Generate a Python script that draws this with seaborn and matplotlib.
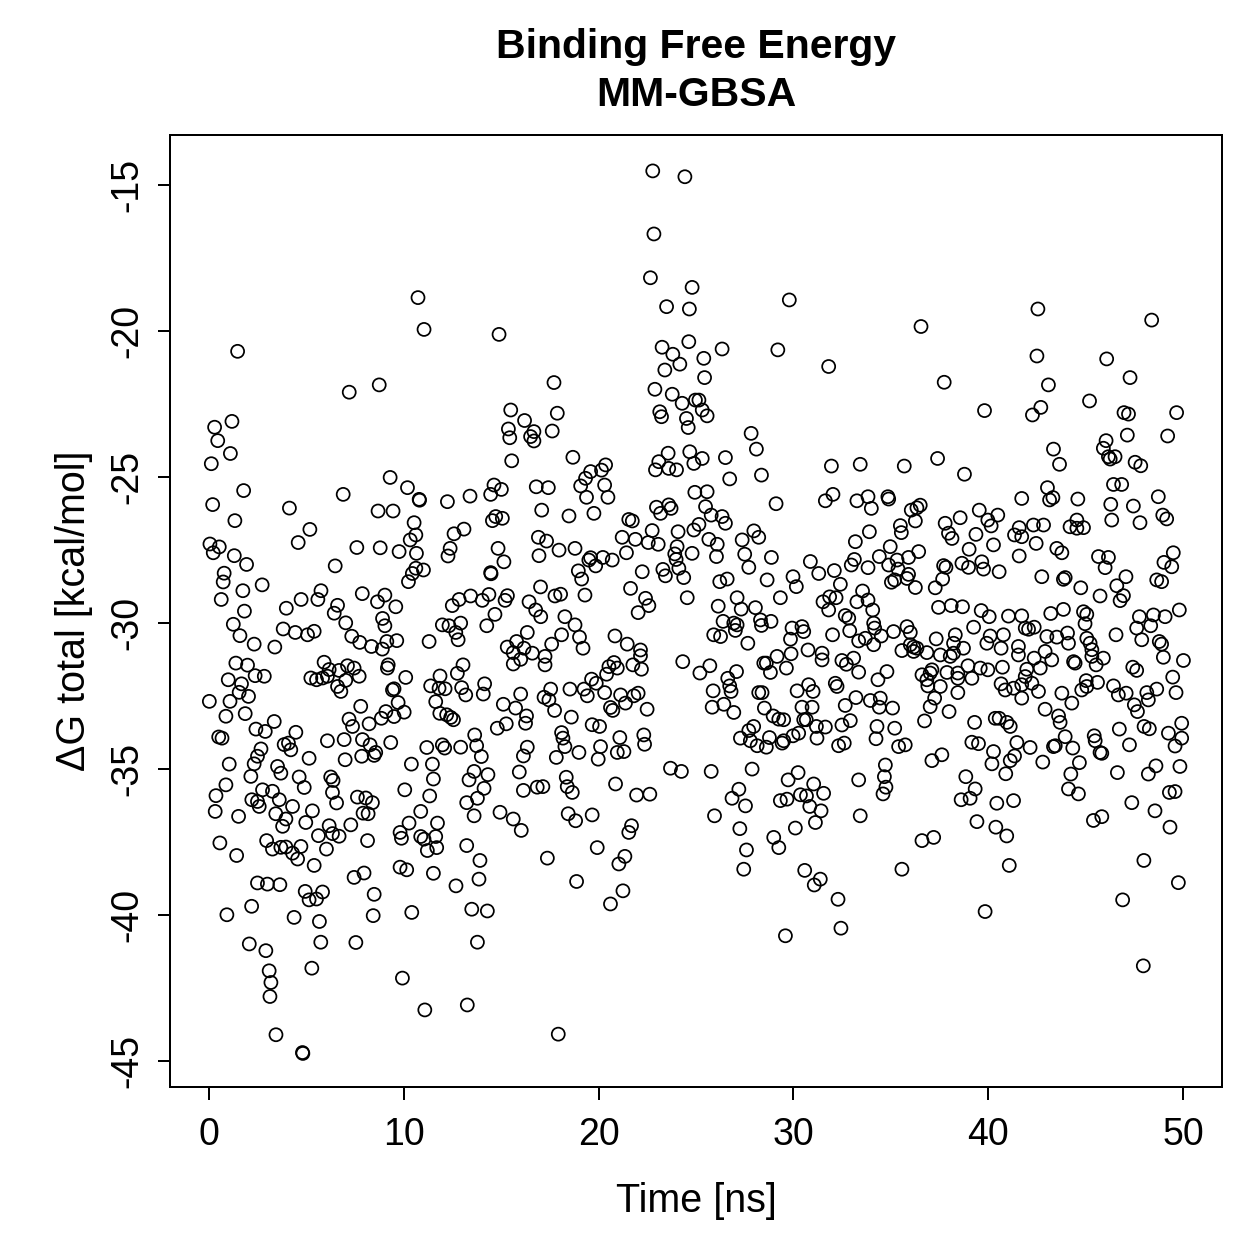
import matplotlib
matplotlib.use("Agg")
import matplotlib.pyplot as plt
import seaborn as sns
import pandas as pd

# (time [ns], dG total [kcal/mol]), grouped by time window
pts_0_8 = [
    (1.47,-20.7),(1.18,-23.1),(0.29,-23.3),(0.45,-23.76),(1.1,-24.2),(0.12,-24.55),(1.78,-25.47),(0.19,-25.95),
    (1.33,-26.5),(0.05,-27.3),(0.22,-27.6),(0.53,-27.4),(1.3,-27.7),(1.93,-28.0),(0.78,-28.3),(0.73,-28.6),
    (1.74,-28.9),(0.63,-29.2),(1.82,-29.6),(7.2,-22.1),(6.89,-25.6),(4.13,-26.07),(5.18,-26.8),(4.58,-27.25),
    (7.59,-27.42),(6.48,-28.05),(2.73,-28.7),(5.75,-28.9),(7.87,-29.0),(4.73,-29.2),(5.59,-29.2),(3.97,-29.5),
    (6.6,-29.4),(6.43,-29.67),
    (1.25,-30.05),(1.59,-30.44),(2.32,-30.73),(3.38,-30.83),(3.81,-30.21),(4.43,-30.33),(5.06,-30.41),(5.4,-30.29),
    (7.02,-30.0),(7.33,-30.46),(7.74,-30.67),(1.38,-31.38),(1.98,-31.45),(2.37,-31.81),(2.84,-31.83),(0.99,-31.95),
    (1.67,-32.09),(1.55,-32.38),(2.03,-32.52),(0.02,-32.69),(1.08,-32.69),(0.87,-33.2),(1.86,-33.11),(5.91,-31.35),
    (6.17,-31.6),(5.23,-31.89),(5.52,-31.95),(5.83,-31.89),(6.08,-31.83),(6.68,-31.63),(7.11,-31.47),(7.45,-31.55),
    (7.71,-31.83),(6.6,-32.18),(6.77,-32.35),(7.02,-31.97),(7.79,-32.86),(7.19,-33.3),(7.37,-33.55),(3.35,-33.38),
    (2.41,-33.64),(2.89,-33.72),(0.5,-33.91),(0.67,-33.95),(4.46,-33.75),(3.86,-34.17),(4.2,-34.35),(4.08,-34.12),
    (6.08,-34.04),(6.94,-34.0),(7.88,-34.0),(5.14,-34.64),(6.99,-34.69),(7.84,-34.57),(2.67,-34.32),(2.49,-34.57),
    (2.32,-34.83),(1.04,-34.84),(2.15,-35.26),(3.52,-34.92),(3.69,-35.15),(4.63,-35.28),(4.89,-35.64),(6.25,-35.28),
    (6.37,-35.4),(6.34,-35.81),(6.55,-36.17),(0.87,-35.55),(0.36,-35.92),(0.32,-36.46),(1.52,-36.63),(2.2,-36.06),
    (2.49,-36.12),(2.75,-35.72),(3.26,-35.77),(3.61,-36.06),(2.58,-36.29),(4.29,-36.29),(3.43,-36.54),(3.95,-36.72),
    (3.78,-36.97),(4.97,-36.84),(5.31,-36.44),(7.62,-35.97),(7.91,-36.52),(7.28,-36.92),(5.62,-37.29),(6.17,-36.95),
    (6.34,-37.22),(6.68,-37.31),(6.03,-37.75),(0.56,-37.54),(1.42,-37.97),(2.96,-37.46),(3.26,-37.75),(3.69,-37.69),
    (3.95,-37.68),(4.29,-37.89),(4.55,-38.09),(4.72,-37.66),(5.4,-38.31),(7.45,-38.72),(7.96,-38.57),(2.49,-38.91),
    (3.0,-38.95),(3.64,-38.97),(4.94,-39.2),(5.14,-39.49),(5.52,-39.46),(5.83,-39.22),(2.19,-39.71),(0.92,-40.0),
    (4.37,-40.09),(5.67,-40.23),(2.07,-41.0),(2.92,-41.23),(5.74,-40.94),(7.54,-40.95),(3.09,-41.92),(3.18,-42.32),
    (3.13,-42.8),(5.28,-41.83),(3.44,-44.11),(4.8,-44.72),(4.82,-44.75),
]

pts_8_16 = [
    (10.73,-18.86),(11.04,-19.95),(14.89,-20.12),(8.74,-21.85),(15.49,-22.71),(16.2,-23.07),(15.37,-23.36),(15.44,-23.66),
    (15.54,-24.45),(9.3,-25.02),(10.19,-25.37),(10.79,-25.77),(10.81,-25.8),(12.24,-25.85),(13.4,-25.66),(14.63,-25.28),
    (14.46,-25.6),(15.01,-25.43),(8.68,-26.17),(9.45,-26.17),(10.53,-26.57),(10.33,-27.16),(10.62,-26.99),(10.65,-27.62),
    (9.76,-27.56),(8.79,-27.43),(12.58,-26.95),(13.09,-26.79),(12.38,-27.45),(12.27,-27.71),(14.72,-26.36),(15.06,-26.42),
    (14.55,-26.5),(14.84,-27.45),(15.14,-27.91),(14.46,-28.28),(14.48,-28.32),(11.01,-28.19),(10.62,-28.13),(10.44,-28.31),
    (10.24,-28.59),(8.65,-29.28),(9.03,-29.05),(9.59,-29.45),(12.49,-29.41),(12.84,-29.2),(13.43,-29.08),(14.03,-29.23),
    (14.37,-29.03),(15.2,-29.23),(15.32,-29.07),(16.43,-29.28),(14.68,-29.71),(8.91,-29.85),
    (9.03,-30.1),(11.98,-30.07),(12.32,-30.1),(12.92,-30.01),(12.67,-30.33),(12.79,-30.58),(14.26,-30.1),(11.3,-30.64),
    (9.64,-30.61),(9.13,-30.64),(8.34,-30.81),(8.9,-30.9),(15.31,-30.83),(15.79,-30.64),(16.17,-30.87),(16.34,-30.33),
    (15.62,-31.02),(16.0,-31.25),(15.62,-31.41),(9.2,-31.44),(9.16,-31.55),(10.1,-31.87),(9.42,-32.3),(9.5,-32.26),
    (9.71,-32.73),(10.02,-33.06),(9.08,-33.04),(9.5,-33.21),(8.85,-33.27),(8.22,-33.46),(11.86,-31.82),(11.38,-32.16),
    (11.81,-32.24),(12.12,-32.26),(11.64,-32.7),(11.85,-33.1),(12.2,-33.15),(12.41,-33.24),(12.55,-33.32),(12.75,-31.73),
    (13.04,-31.44),(12.97,-32.22),(13.18,-32.47),(14.15,-32.09),(14.08,-32.44),(15.11,-32.79),(15.74,-32.92),(16.0,-32.44),
    (16.3,-33.19),(16.25,-33.44),(14.8,-33.61),(15.26,-33.46),(13.64,-33.84),(13.74,-34.21),(13.98,-34.58),(12.92,-34.26),
    (11.18,-34.27),(11.98,-34.18),(12.1,-34.29),(9.33,-34.1),(8.27,-34.18),(8.56,-34.44),(8.48,-34.54),(10.39,-34.84),
    (11.47,-34.84),(11.52,-35.35),(13.61,-35.09),(13.35,-35.38),(14.32,-35.2),(14.12,-35.67),(13.78,-36.01),(13.23,-36.16),
    (13.61,-36.61),(15.93,-35.11),(16.34,-34.26),(16.14,-34.56),(16.14,-35.74),(14.94,-36.49),(15.62,-36.72),(16.03,-37.11),
    (10.05,-35.72),(11.33,-35.93),(10.87,-36.46),(10.27,-36.86),(11.73,-36.86),(11.64,-37.32),(11.69,-37.7),(11.21,-37.8),
    (11.04,-37.41),(10.87,-37.32),(9.81,-37.18),(9.88,-37.38),(8.05,-36.0),(8.39,-36.16),(8.17,-36.54),(8.14,-37.46),
    (13.23,-37.63),(13.91,-38.14),(13.86,-38.78),(12.68,-39.01),(11.52,-38.58),(9.81,-38.37),(10.15,-38.46),(8.48,-39.3),
    (8.43,-40.03),(10.41,-39.92),(13.49,-39.81),(14.29,-39.87),(13.78,-40.94),(9.93,-42.17),(11.08,-43.26),(13.26,-43.09),
]

pts_16_25 = [
    (22.78,-14.52),(24.43,-14.72),(22.84,-16.68),(22.66,-18.18),(24.8,-18.51),(23.49,-19.17),(24.66,-19.25),(24.63,-20.37),
    (23.26,-20.56),(23.81,-20.8),(24.17,-21.14),(23.4,-21.34),(17.71,-21.77),(22.89,-22.0),(23.78,-22.17),(24.29,-22.48),
    (24.97,-22.37),(23.14,-22.77),(23.23,-22.94),(24.51,-23.0),(24.6,-23.31),(17.88,-22.82),(17.62,-23.43),(16.68,-23.45),
    (16.51,-23.62),(16.68,-23.77),(18.68,-24.33),(24.68,-24.14),(24.89,-24.54),(23.57,-24.19),(23.09,-24.48),(22.92,-24.76),
    (23.6,-24.71),(24.0,-24.76),(20.36,-24.59),(20.15,-24.77),(19.59,-24.82),(19.33,-25.05),(19.08,-25.31),(20.31,-25.28),
    (19.38,-25.7),(20.48,-25.7),(16.8,-25.34),(17.42,-25.37),(17.08,-26.14),(18.48,-26.34),(19.76,-26.25),(24.94,-25.53),
    (22.97,-26.04),(23.18,-26.25),(23.6,-25.96),(23.72,-26.08),(21.55,-26.46),(21.73,-26.51),(21.21,-27.07),(21.89,-27.14),
    (21.43,-27.6),(22.75,-26.84),(22.55,-27.25),(23.06,-27.31),(24.08,-26.88),(24.89,-26.82),(24.03,-27.39),(23.91,-27.64),
    (24.8,-27.62),(23.98,-27.83),(24.12,-28.13),(24.37,-28.45),(23.3,-28.17),(23.43,-28.39),(22.24,-28.25),(16.91,-27.07),
    (17.33,-27.2),(16.94,-27.7),(17.97,-27.51),(18.79,-27.45),(19.5,-27.85),(19.59,-27.77),(19.85,-28.05),(20.22,-27.76),
    (20.7,-27.85),(18.96,-28.22),(19.13,-28.5),(17.02,-28.77),(17.76,-29.08),(18.05,-29.02),(19.3,-29.05),(21.64,-28.82),
    (22.41,-29.16),(22.58,-29.41),(24.55,-29.14),(16.77,-29.56),(17.03,-29.79),(18.27,-29.79),(22.03,-29.65),
    (18.79,-30.07),(18.1,-30.41),(17.59,-30.73),(19.02,-30.49),(19.2,-30.87),(16.6,-31.04),(17.25,-31.15),(17.25,-31.44),
    (20.84,-30.45),(21.47,-30.73),(22.15,-30.93),(22.15,-31.13),(21.76,-31.44),(22.2,-31.59),(20.79,-31.36),(20.53,-31.5),
    (20.96,-31.55),(20.41,-31.76),(24.32,-31.33),(19.64,-31.93),(19.88,-32.07),(19.25,-32.27),(19.42,-32.5),(20.31,-32.39),
    (21.13,-32.47),(21.38,-32.75),(21.81,-32.5),(22.03,-32.41),(22.49,-32.96),(20.61,-32.9),(20.73,-33.0),(18.53,-32.27),
    (17.54,-32.27),(17.2,-32.55),(17.45,-32.64),(17.74,-33.0),(18.6,-33.23),(19.67,-33.49),(20.05,-33.55),(18.1,-33.76),
    (18.17,-33.95),(18.27,-34.24),(21.09,-33.93),(22.32,-33.84),(22.36,-34.16),(20.1,-34.24),(19.98,-34.67),(18.99,-34.44),
    (17.83,-34.61),(20.96,-34.44),(21.3,-34.41),(23.69,-34.98),(24.25,-35.09),(18.34,-35.29),(18.39,-35.61),(18.65,-35.81),
    (16.85,-35.63),(17.14,-35.61),(20.87,-35.52),(21.95,-35.9),(22.63,-35.87),(18.44,-36.54),(18.82,-36.78),(19.67,-36.58),
    (21.69,-36.95),(21.55,-37.18),(19.93,-37.7),(21.35,-38.0),(21.04,-38.26),(17.37,-38.06),(18.87,-38.86),(21.25,-39.18),
    (20.61,-39.63),(17.93,-44.09),
]

pts_25_33 = [
    (29.79,-18.94),(26.34,-20.62),(29.2,-20.65),(25.4,-20.94),(25.44,-21.6),(31.81,-21.22),(25.15,-22.37),(25.32,-22.71),
    (25.57,-22.91),(27.83,-23.51),(28.1,-24.05),(25.32,-24.37),(26.51,-24.34),(26.73,-25.07),(28.36,-24.94),(31.95,-24.63),
    (33.43,-24.57),(25.57,-25.51),(29.11,-25.92),(32.03,-25.6),(31.64,-25.82),(33.26,-25.82),(25.49,-26.02),(25.78,-26.31),
    (26.34,-26.36),(26.51,-26.59),(25.15,-26.63),(25.66,-27.14),(26.09,-27.31),(26.05,-27.73),(27.37,-27.16),(27.97,-26.85),
    (28.22,-27.07),(27.5,-27.65),(27.71,-28.1),(28.87,-27.76),(30.87,-27.9),(31.3,-28.31),(32.1,-28.21),(32.41,-28.68),
    (33.13,-27.83),(32.97,-28.02),(33.18,-27.22),(33.26,-29.28),(29.98,-28.42),(30.15,-28.76),(28.65,-28.53),(26.22,-28.59),
    (26.6,-28.5),(29.33,-29.14),(27.11,-29.14),(27.32,-29.53),(28.05,-29.48),(26.14,-29.43),(31.52,-29.28),(31.86,-29.11),
    (32.19,-29.14),(31.81,-29.56),(32.66,-29.75),
    (32.84,-29.84),(26.39,-29.95),(26.94,-30.01),(27.11,-30.07),(27.02,-30.26),(28.31,-29.9),(28.36,-30.09),(28.85,-29.95),
    (29.93,-30.18),(30.44,-30.13),(30.53,-30.3),(29.85,-30.56),(32.01,-30.41),(32.89,-30.27),(33.35,-30.62),(25.91,-30.41),
    (26.26,-30.47),(27.66,-30.7),(30.75,-30.93),(31.47,-31.04),(31.47,-31.27),(32.49,-31.29),(32.72,-31.42),(33.09,-31.21),
    (33.35,-31.69),(25.71,-31.47),(25.2,-31.72),(27.08,-31.67),(26.63,-31.9),(26.73,-32.16),(26.8,-32.35),(28.48,-31.38),
    (28.61,-31.38),(28.82,-31.7),(29.16,-31.15),(29.88,-31.06),(29.64,-31.55),(25.88,-32.33),(25.83,-32.89),(26.43,-32.79),
    (26.94,-33.07),(28.22,-32.39),(28.39,-32.39),(28.51,-32.92),(28.96,-33.19),(29.25,-33.3),(29.5,-33.32),(30.19,-32.33),
    (30.78,-32.12),(31.01,-32.35),(30.44,-32.89),(30.96,-32.89),(30.53,-33.32),(30.66,-33.32),(32.15,-32.07),(32.24,-32.18),
    (33.21,-32.56),(32.66,-32.83),(32.92,-33.35),(32.49,-33.5),(31.18,-33.55),(31.64,-33.57),(31.21,-33.95),(27.96,-33.55),
    (27.71,-33.69),(27.28,-33.95),(27.79,-34.04),(28.14,-34.21),(28.61,-34.26),(28.77,-33.93),(29.5,-34.04),(29.42,-34.12),
    (29.98,-33.87),(30.27,-33.78),(32.32,-34.21),(32.61,-34.12),(25.78,-35.09),(27.88,-35.01),(27.2,-35.7),(26.85,-36.01),
    (27.54,-36.27),(25.95,-36.61),(27.25,-37.05),(29.73,-35.38),(30.24,-35.13),(31.04,-35.52),(31.55,-35.84),(29.33,-36.09),
    (29.67,-36.04),(30.36,-35.89),(30.67,-35.93),(30.84,-36.29),(31.42,-36.44),(31.13,-36.84),(30.1,-37.03),(33.35,-35.38),
    (33.43,-36.61),(28.99,-37.35),(29.25,-37.7),(27.59,-37.78),(27.45,-38.44),(30.58,-38.48),(31.38,-38.78),(31.07,-38.98),
    (32.29,-39.47),(32.44,-40.46),(29.59,-40.72),
]

pts_33_42 = [
    (36.55,-19.85),(37.74,-21.76),(39.81,-22.73),(35.69,-24.63),(37.4,-24.37),(38.78,-24.91),(33.83,-25.68),(34.0,-26.08),
    (34.85,-25.68),(34.89,-25.76),(36.05,-26.14),(36.34,-26.06),(36.51,-25.97),(36.26,-26.51),(33.9,-26.88),(35.49,-26.67),
    (35.54,-26.91),(37.79,-26.59),(37.96,-26.93),(38.14,-27.11),(38.56,-26.4),(39.54,-26.14),(39.98,-26.48),(40.49,-26.31),
    (40.15,-26.68),(39.37,-26.97),(40.27,-27.33),(39.02,-27.48),(41.72,-25.74),(41.59,-26.74),(41.35,-26.99),(41.72,-27.05),
    (41.59,-27.71),(40.56,-28.25),(39.67,-27.91),(39.76,-28.16),(38.65,-27.96),(38.99,-28.1),(37.71,-28.04),(37.83,-28.1),
    (37.66,-28.5),(37.28,-28.8),(36.43,-27.56),(35.91,-27.76),(34.97,-27.39),(34.41,-27.73),(34.89,-28.02),(35.32,-27.85),
    (35.37,-28.16),(35.91,-28.34),(35.83,-28.48),(35.2,-28.53),(35.03,-28.61),(36.26,-28.79),(33.83,-28.11),(33.55,-28.91),
    (33.83,-29.22),(34.07,-29.56),(37.45,-29.47),(38.1,-29.41),(38.68,-29.45),(39.64,-29.58),(40.05,-29.79),(41.04,-29.77),
    (41.72,-29.76),
    (34.12,-30.01),(34.17,-30.18),(33.69,-30.53),(34.51,-30.45),(34.12,-30.75),(35.14,-30.3),(35.83,-30.13),(36.0,-30.33),
    (35.57,-30.95),(36.0,-30.75),(36.17,-30.83),(36.34,-30.87),(36.85,-31.02),(36.17,-30.98),(37.33,-30.55),(37.54,-31.1),
    (38.05,-31.15),(38.31,-30.41),(38.22,-30.7),(38.73,-30.87),(38.22,-31.04),(39.25,-30.15),(40.1,-30.45),(39.93,-30.7),
    (40.78,-30.41),(40.66,-30.87),(41.55,-30.81),(41.55,-31.1),(41.9,-30.18),(34.8,-31.67),(34.34,-31.95),(36.6,-31.78),
    (36.85,-31.95),(37.11,-31.61),(37.02,-31.72),(36.9,-32.16),(37.54,-32.18),(37.88,-31.7),(38.44,-31.72),(38.44,-31.9),
    (38.96,-31.47),(39.16,-31.9),(39.59,-31.55),(39.98,-31.61),(40.73,-31.52),(40.66,-32.09),(40.87,-32.3),(41.3,-32.24),
    (41.72,-32.12),(41.72,-32.58),(33.95,-32.66),(34.46,-32.58),(34.41,-32.89),(35.09,-32.92),(37.25,-32.58),(37.02,-32.87),
    (38.44,-32.39),(37.99,-33.04),(36.73,-33.36),(34.29,-33.55),(34.24,-33.97),(35.2,-33.61),(39.3,-33.41),(40.36,-33.27),
    (40.56,-33.27),(40.96,-33.41),(41.13,-33.55),(35.4,-34.24),(35.74,-34.18),(39.16,-34.09),(39.5,-34.14),(40.27,-34.41),
    (40.19,-34.83),(41.47,-34.1),(41.35,-34.56),(41.13,-34.72),(37.11,-34.72),(37.62,-34.52),(34.72,-34.87),(34.67,-35.27),
    (34.75,-35.63),(34.6,-35.86),(38.85,-35.27),(39.33,-35.69),(39.07,-36.01),(38.61,-36.06),(40.9,-35.17),(40.44,-36.18),
    (41.3,-36.09),(39.42,-36.81),(40.39,-37.0),(40.95,-37.3),(36.6,-37.46),(37.2,-37.35),(35.57,-38.44),(41.08,-38.31),
    (39.84,-39.89),
]

pts_42_50 = [
    (42.55,-19.25),(48.39,-19.63),(42.5,-20.86),(46.08,-20.96),(47.28,-21.6),(43.09,-21.85),(45.2,-22.4),(42.7,-22.62),
    (42.27,-22.88),(46.97,-22.8),(47.2,-22.85),(49.67,-22.8),(47.14,-23.57),(49.21,-23.6),(43.35,-24.05),(43.66,-24.57),
    (46.05,-23.76),(45.91,-24.02),(46.17,-24.31),(46.51,-24.31),(46.26,-24.39),(47.54,-24.5),(47.83,-24.62),(43.04,-25.37),
    (43.15,-25.79),(43.32,-25.71),(44.6,-25.76),(46.43,-25.26),(46.85,-25.26),(46.29,-25.94),(47.45,-26.0),(46.34,-26.48),
    (47.79,-26.57),(48.73,-25.68),(48.96,-26.31),(49.16,-26.44),(42.32,-26.65),(42.84,-26.65),(42.46,-27.28),(44.2,-26.71),
    (44.55,-26.48),(44.89,-26.74),(44.55,-26.76),(43.52,-27.45),(43.78,-27.6),(45.66,-27.73),(46.17,-27.76),(46.0,-28.11),
    (49.5,-27.6),(49.02,-27.93),(49.42,-28.08),(42.75,-28.42),(43.95,-28.45),(43.86,-28.51),(44.75,-28.8),(45.74,-29.08),
    (47.07,-28.42),(46.6,-28.73),(46.94,-29.07),(46.77,-29.24),(48.65,-28.53),(48.9,-28.59),(49.81,-29.56),(43.21,-29.68),
    (43.86,-29.54),(44.89,-29.62),(45.06,-29.71),(47.76,-29.79),(48.48,-29.73),(49.08,-29.79),
    (42.07,-30.22),(42.36,-30.15),(44.97,-30.03),(47.62,-30.18),(48.34,-30.1),(43.01,-30.47),(43.52,-30.49),(44.07,-30.35),
    (44.12,-30.7),(46.56,-30.41),(45.06,-30.53),(45.23,-30.7),(45.32,-30.92),(45.32,-31.15),(47.88,-30.58),(48.78,-30.64),
    (48.9,-30.73),(42.36,-31.21),(42.92,-30.98),(43.26,-31.27),(42.67,-31.55),(44.38,-31.33),(44.46,-31.38),(45.54,-31.44),
    (45.91,-31.21),(47.42,-31.52),(47.62,-31.63),(48.99,-31.18),(50.02,-31.29),(41.98,-31.59),(41.9,-31.84),(42.24,-32.07),
    (42.58,-32.35),(45.03,-31.98),(45.06,-32.18),(44.8,-32.3),(45.61,-32.04),(43.78,-32.41),(44.29,-32.75),(46.43,-32.16),
    (46.68,-32.47),(47.08,-32.41),(47.5,-32.81),(47.66,-33.04),(48.14,-32.39),(48.22,-32.64),(48.65,-32.27),(49.47,-31.86),
    (49.64,-32.39),(42.92,-32.96),(43.61,-33.19),(43.69,-33.41),(43.95,-33.9),(43.44,-34.21),(43.35,-34.24),(42.15,-34.27),
    (44.34,-34.29),(44.68,-34.79),(42.8,-34.77),(44.24,-35.18),(44.12,-35.69),(44.63,-35.86),(45.44,-33.87),(45.49,-34.04),
    (45.74,-34.44),(45.83,-34.47),(46.73,-33.64),(47.25,-34.18),(46.63,-35.13),(48.0,-33.55),(48.27,-33.63),(49.25,-33.78),
    (49.59,-34.22),(49.93,-33.95),(49.93,-33.44),(48.61,-34.9),(48.22,-35.18),(49.84,-34.92),(49.3,-35.81),(49.59,-35.78),
    (47.37,-36.16),(48.56,-36.44),(45.4,-36.77),(45.83,-36.64),(49.33,-37.0),(47.99,-38.14),(49.76,-38.9),(46.9,-39.49),
    (47.96,-41.75),
]

x_ticks = [0, 10, 20, 30, 40, 50]
y_ticks = [-45, -40, -35, -30, -25, -20, -15]
y_tick_labels = ["-45", "-40", "-35", "-30", "-25", "-20", "-15"]

df = pd.DataFrame(pts_0_8 + pts_8_16 + pts_16_25 + pts_25_33 + pts_33_42 + pts_42_50,
                  columns=["time", "dG"])

sns.set_style("ticks")
plt.rcParams["font.family"] = ["Liberation Sans", "DejaVu Sans"]
plt.rcParams["axes.unicode_minus"] = False
plt.rcParams["text.color"] = "black"
plt.rcParams["axes.labelcolor"] = "black"
plt.rcParams["xtick.color"] = "black"
plt.rcParams["ytick.color"] = "black"

W = 1259
fig = plt.figure(figsize=(W / 180, W / 180), dpi=180)
ax = fig.add_axes([170 / W, 1 - 1087 / W, (1222 - 170) / W, (1087 - 135) / W])

sns.scatterplot(data=df, x="time", y="dG", ax=ax, marker="o", s=27,
                facecolor="none", edgecolor="black", linewidth=0.7, legend=False)

ax.set_xlim(-2, 52)
ax.set_ylim(-45.9, -13.29)
ax.set_xticks(x_ticks)
ax.set_xticklabels([str(v) for v in x_ticks])
ax.set_yticks(y_ticks)
ax.set_yticklabels(y_tick_labels, rotation=90, va="center")

fs_tick = 15
fs_lab = 15.8
fs_title = 16.4
ax.tick_params(axis="both", direction="out", length=5, width=0.8, colors="black",
               labelcolor="black", labelsize=fs_tick)
ax.tick_params(axis="x", pad=7)
ax.tick_params(axis="y", pad=5)
for sp in ax.spines.values():
    sp.set_visible(True)
    sp.set_linewidth(0.8)
    sp.set_color("black")

ax.set_xlabel("Time [ns]", fontsize=fs_lab, color="black")
ax.set_ylabel("\u0394G total [kcal/mol]", fontsize=fs_lab, color="black")
ax.xaxis.set_label_coords(0.5, -0.10)
ax.yaxis.set_label_coords(-0.073, 0.5)

cx = (170 + 1222) / 2 / W
fig.text(cx, 1 - 47 / W, "Binding Free Energy", ha="center", va="center",
         fontsize=fs_title, fontweight="bold", color="black")
fig.text(cx, 1 - 95 / W, "MM-GBSA", ha="center", va="center",
         fontsize=fs_title, fontweight="bold", color="black")

fig.savefig("out.png", dpi=180)
